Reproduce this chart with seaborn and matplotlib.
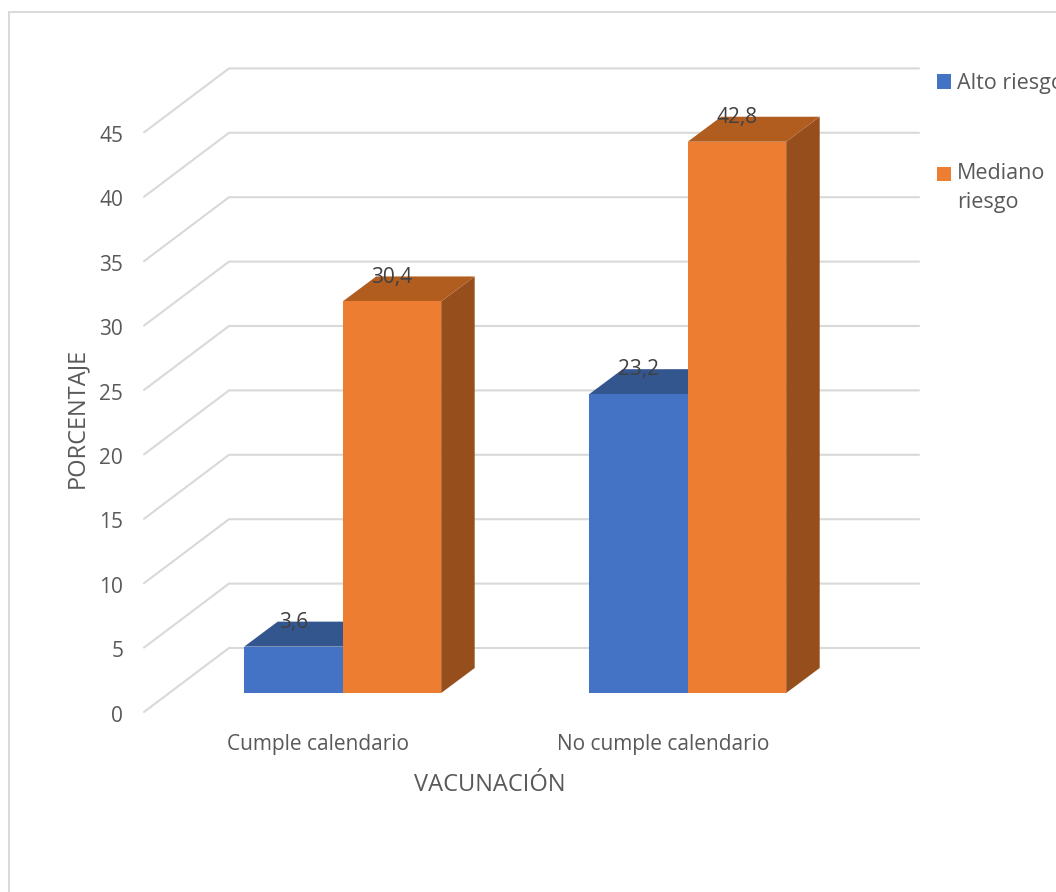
import matplotlib
matplotlib.use("Agg")
import matplotlib.pyplot as plt
from matplotlib.patches import Polygon, Rectangle
from matplotlib.transforms import ScaledTranslation
import pandas as pd
import seaborn as sns

# Survey percentages by vaccination status and risk level
categories = ["Cumple calendario", "No cumple calendario"]
alto_riesgo = [3.6, 23.2]
mediano_riesgo = [30.4, 42.8]
series_names = ["Alto riesgo", "Mediano\nriesgo"]
y_ticks = [0, 5, 10, 15, 20, 25, 30, 35, 40, 45]

W, H, DPI = 1056, 892, 100
PX_PER_UNIT = 12.88      # pixels per percentage point
PX_PER_CAT = 345.0       # pixels between category centres
LEFT, RIGHT, BASE, TOP = 144, 919, 693, 60  # plot frame in pixels

TEXT = "#595959"
GRID = "#d9d9d9"
FONT = 15
TITLE_FONT = 17
LEGEND_FONT = 15.5

sns.set_theme(style="white")
plt.rcParams["font.family"] = ["Open Sans", "DejaVu Sans"]

df = pd.DataFrame({
    "cat": categories * 2,
    "serie": [series_names[0]] * 2 + [series_names[1]] * 2,
    "pct": alto_riesgo + mediano_riesgo,
})

fig = plt.figure(figsize=(W / DPI, H / DPI), dpi=DPI, facecolor="white")
ax = fig.add_axes([LEFT / W, 1 - BASE / H, (RIGHT - LEFT) / W, (BASE - TOP) / H])
ax.patch.set_alpha(0)

palette = {series_names[0]: "#4472c4", series_names[1]: "#ed7d31"}
sns.barplot(data=df, x="cat", y="pct", hue="serie", palette=palette,
            width=197 / PX_PER_CAT, gap=0, dodge=True, saturation=1,
            linewidth=0, ax=ax)

ax.set_xlim((LEFT - 342.7) / PX_PER_CAT, (RIGHT - 342.7) / PX_PER_CAT)
ax.set_ylim(0, (BASE - TOP) / PX_PER_UNIT)

# Depth of the extruded bars, and of the floor, in data units
bar_dx, bar_dy = 33.5 / PX_PER_CAT, 25 / PX_PER_UNIT
wall_x = (229 - 342.7) / PX_PER_CAT
wall_dy = 45 / PX_PER_UNIT
front_dy = -19 / PX_PER_UNIT

# Back wall gridlines and the side wall diagonals
for v in y_ticks:
    ax.plot([ax.get_xlim()[0], wall_x, ax.get_xlim()[1]],
            [v + front_dy, v + wall_dy, v + wall_dy],
            color=GRID, lw=1.5, clip_on=False, zorder=1,
            solid_joinstyle="miter")

# Top and side faces built from each front face
shades = [("#34568f", "#2f4f87"), ("#b25d20", "#964f1c")]
for s, container in enumerate(ax.containers):
    top_c, side_c = shades[s]
    base_z = 3 + s
    for bar in container:
        x0, x1 = bar.get_x(), bar.get_x() + bar.get_width()
        h = bar.get_height()
        ax.add_patch(Polygon([(x1, 0), (x1 + bar_dx, bar_dy),
                              (x1 + bar_dx, h + bar_dy), (x1, h)],
                             facecolor=side_c, lw=0, zorder=base_z, clip_on=False))
        ax.add_patch(Polygon([(x0, h), (x0 + bar_dx, h + bar_dy),
                              (x1 + bar_dx, h + bar_dy), (x1, h)],
                             facecolor=top_c, lw=0, zorder=base_z + 0.1, clip_on=False))
        bar.set_zorder(base_z + 0.2)

# Value labels with a decimal comma
for container, values in zip(ax.containers, [alto_riesgo, mediano_riesgo]):
    labels = [f"{v:.1f}".replace(".", ",") for v in values]
    for t in ax.bar_label(container, labels=labels, padding=10, color="#404040",
                          fontsize=FONT):
        t.set_zorder(10)

sns.despine(ax=ax, left=True, bottom=True)
ax.tick_params(axis="both", length=0, colors=TEXT, labelsize=FONT)
ax.set_yticks(y_ticks)
ax.tick_params(axis="y", pad=15)
ax.tick_params(axis="x", pad=29.5)
ax.grid(False)

# Tick labels sit on the front plane of the floor
y_shift = ScaledTranslation(0, -20.5 / DPI, fig.dpi_scale_trans)
for lab in ax.get_yticklabels():
    lab.set_transform(lab.get_transform() + y_shift)
x_shift = ScaledTranslation(-25 / DPI, 0, fig.dpi_scale_trans)
for lab in ax.get_xticklabels():
    lab.set_transform(lab.get_transform() + x_shift)

ax.set_xlabel("VACUNACIÓN", color=TEXT, fontsize=TITLE_FONT)
ax.set_ylabel("PORCENTAJE", color=TEXT, fontsize=TITLE_FONT)
ax.xaxis.set_label_coords((490 - LEFT) / (RIGHT - LEFT), (BASE - 785) / (BASE - TOP))
ax.xaxis.label.set_va("center")
ax.yaxis.set_label_coords((77 - LEFT) / (RIGHT - LEFT), (BASE - 418) / (BASE - TOP))
ax.yaxis.label.set_va("center")

handles, names = ax.get_legend_handles_labels()
leg = ax.legend(handles, names, loc="upper left",
                bbox_to_anchor=(937 / W, 1 - 73 / H), bbox_transform=fig.transFigure,
                frameon=False, fontsize=LEGEND_FONT, handlelength=0.65, handleheight=0.65,
                handletextpad=0.28, labelspacing=3.22, borderpad=0, borderaxespad=0,
                labelcolor=TEXT)
for txt in leg.get_texts():
    txt.set_linespacing(1.45)
# The swatch of the two-line entry lines up with its first line
second = leg.legend_handles[1]
second.set_y(second.get_y() + 14.5 * 72 / DPI)

# Chart area outline, running off the right and bottom edges
fig.add_artist(Rectangle((8.5 / W, -0.1), 1.2, 1 - 12.5 / H + 0.1,
                         transform=fig.transFigure, fill=False,
                         edgecolor=GRID, lw=1.4, clip_on=False, zorder=0))

fig.savefig("out.png", dpi=DPI)
